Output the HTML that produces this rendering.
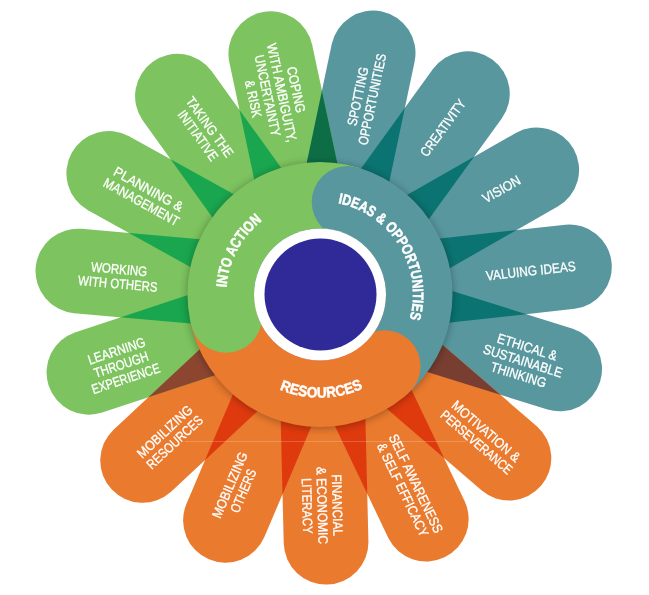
<!DOCTYPE html>
<html><head><meta charset="utf-8"><title>EntreComp</title><style>html,body{margin:0;padding:0;background:#fff}svg{display:block}text{font-family:"Liberation Sans",sans-serif;fill:#fff;stroke:#fff;stroke-width:0.3px}</style></head><body>
<svg width="649" height="595" viewBox="0 0 649 595">
<defs>
<clipPath id="c0"><path d="M372.37 262.08L414.64 61.48A42.35 42.35 0 0 0 331.76 44.02L289.49 244.61Z"/></clipPath>
<clipPath id="c1"><path d="M381.53 284.58L501.74 118.52A42.35 42.35 0 0 0 433.12 68.86L312.92 234.92Z"/></clipPath>
<clipPath id="c2"><path d="M379.66 308.18L557.73 206.61A42.35 42.35 0 0 0 515.77 133.03L337.70 234.60Z"/></clipPath>
<clipPath id="c3"><path d="M370.90 331.36L574.66 308.86A42.35 42.35 0 0 0 565.36 224.68L361.60 247.17Z"/></clipPath>
<clipPath id="c4"><path d="M351.85 348.41L547.52 409.54A42.35 42.35 0 0 0 572.78 328.70L377.11 267.56Z"/></clipPath>
<clipPath id="c5"><path d="M326.27 356.41L481.46 490.36A42.35 42.35 0 0 0 536.80 426.24L381.62 292.29Z"/></clipPath>
<clipPath id="c6"><path d="M300.08 352.93L388.34 537.96A42.35 42.35 0 0 0 464.78 501.50L376.53 316.47Z"/></clipPath>
<clipPath id="c7"><path d="M278.72 338.34L283.73 543.27A42.35 42.35 0 0 0 368.41 541.21L363.40 336.27Z"/></clipPath>
<clipPath id="c8"><path d="M266.39 315.50L186.29 504.20A42.35 42.35 0 0 0 264.25 537.30L344.35 348.59Z"/></clipPath>
<clipPath id="c9"><path d="M263.22 290.08L113.30 429.89A42.35 42.35 0 0 0 171.06 491.83L320.99 352.02Z"/></clipPath>
<clipPath id="c10"><path d="M270.23 267.80L75.60 332.17A42.35 42.35 0 0 0 102.20 412.59L296.83 348.22Z"/></clipPath>
<clipPath id="c11"><path d="M285.76 246.73L81.54 228.86A42.35 42.35 0 0 0 74.16 313.24L278.38 331.11Z"/></clipPath>
<clipPath id="c12"><path d="M308.34 235.55L129.04 136.16A42.35 42.35 0 0 0 87.98 210.24L267.28 309.63Z"/></clipPath>
<clipPath id="c13"><path d="M331.17 237.51L211.54 71.04A42.35 42.35 0 0 0 142.76 120.46L262.38 286.94Z"/></clipPath>
<clipPath id="c14"><path d="M354.75 244.92L312.12 44.39A42.35 42.35 0 0 0 229.28 62.01L271.90 262.53Z"/></clipPath>
<filter id="sh" x="-20%" y="-20%" width="140%" height="140%"><feGaussianBlur stdDeviation="4"/></filter>
<clipPath id="ring"><path clip-rule="evenodd" d="M320.00 294.50m-132.50 0a132.50 132.50 0 1 0 265.00 0a132.50 132.50 0 1 0 -265.00 0ZM320.00 294.50m-66.00 0a66.00 66.00 0 1 0 132.00 0a66.00 66.00 0 1 0 -132.00 0Z"/></clipPath>
</defs>
<rect width="649" height="595" fill="#fff"/>
<path d="M372.37 262.08L414.64 61.48A42.35 42.35 0 0 0 331.76 44.02L289.49 244.61Z" fill="#59979f"/>
<path d="M381.53 284.58L501.74 118.52A42.35 42.35 0 0 0 433.12 68.86L312.92 234.92Z" fill="#59979f"/>
<path d="M379.66 308.18L557.73 206.61A42.35 42.35 0 0 0 515.77 133.03L337.70 234.60Z" fill="#59979f"/>
<path d="M370.90 331.36L574.66 308.86A42.35 42.35 0 0 0 565.36 224.68L361.60 247.17Z" fill="#59979f"/>
<path d="M351.85 348.41L547.52 409.54A42.35 42.35 0 0 0 572.78 328.70L377.11 267.56Z" fill="#59979f"/>
<path d="M326.27 356.41L481.46 490.36A42.35 42.35 0 0 0 536.80 426.24L381.62 292.29Z" fill="#ea7a2e"/>
<path d="M300.08 352.93L388.34 537.96A42.35 42.35 0 0 0 464.78 501.50L376.53 316.47Z" fill="#ea7a2e"/>
<path d="M278.72 338.34L283.73 543.27A42.35 42.35 0 0 0 368.41 541.21L363.40 336.27Z" fill="#ea7a2e"/>
<path d="M266.39 315.50L186.29 504.20A42.35 42.35 0 0 0 264.25 537.30L344.35 348.59Z" fill="#ea7a2e"/>
<path d="M263.22 290.08L113.30 429.89A42.35 42.35 0 0 0 171.06 491.83L320.99 352.02Z" fill="#ea7a2e"/>
<path d="M270.23 267.80L75.60 332.17A42.35 42.35 0 0 0 102.20 412.59L296.83 348.22Z" fill="#7dc35f"/>
<path d="M285.76 246.73L81.54 228.86A42.35 42.35 0 0 0 74.16 313.24L278.38 331.11Z" fill="#7dc35f"/>
<path d="M308.34 235.55L129.04 136.16A42.35 42.35 0 0 0 87.98 210.24L267.28 309.63Z" fill="#7dc35f"/>
<path d="M331.17 237.51L211.54 71.04A42.35 42.35 0 0 0 142.76 120.46L262.38 286.94Z" fill="#7dc35f"/>
<path d="M354.75 244.92L312.12 44.39A42.35 42.35 0 0 0 229.28 62.01L271.90 262.53Z" fill="#7dc35f"/>
<g clip-path="url(#c0)"><path d="M381.53 284.58L501.74 118.52A42.35 42.35 0 0 0 433.12 68.86L312.92 234.92Z" fill="#0b7371"/></g>
<g clip-path="url(#c1)"><path d="M379.66 308.18L557.73 206.61A42.35 42.35 0 0 0 515.77 133.03L337.70 234.60Z" fill="#0b7371"/></g>
<g clip-path="url(#c2)"><path d="M370.90 331.36L574.66 308.86A42.35 42.35 0 0 0 565.36 224.68L361.60 247.17Z" fill="#0b7371"/></g>
<g clip-path="url(#c3)"><path d="M351.85 348.41L547.52 409.54A42.35 42.35 0 0 0 572.78 328.70L377.11 267.56Z" fill="#0b7371"/></g>
<g clip-path="url(#c4)"><path d="M326.27 356.41L481.46 490.36A42.35 42.35 0 0 0 536.80 426.24L381.62 292.29Z" fill="#783e32"/></g>
<g clip-path="url(#c5)"><path d="M300.08 352.93L388.34 537.96A42.35 42.35 0 0 0 464.78 501.50L376.53 316.47Z" fill="#de3a0e"/></g>
<g clip-path="url(#c6)"><path d="M278.72 338.34L283.73 543.27A42.35 42.35 0 0 0 368.41 541.21L363.40 336.27Z" fill="#de3a0e"/></g>
<g clip-path="url(#c7)"><path d="M266.39 315.50L186.29 504.20A42.35 42.35 0 0 0 264.25 537.30L344.35 348.59Z" fill="#de3a0e"/></g>
<g clip-path="url(#c8)"><path d="M263.22 290.08L113.30 429.89A42.35 42.35 0 0 0 171.06 491.83L320.99 352.02Z" fill="#de3a0e"/></g>
<g clip-path="url(#c9)"><path d="M270.23 267.80L75.60 332.17A42.35 42.35 0 0 0 102.20 412.59L296.83 348.22Z" fill="#8c4630"/></g>
<g clip-path="url(#c10)"><path d="M285.76 246.73L81.54 228.86A42.35 42.35 0 0 0 74.16 313.24L278.38 331.11Z" fill="#1aa64e"/></g>
<g clip-path="url(#c11)"><path d="M308.34 235.55L129.04 136.16A42.35 42.35 0 0 0 87.98 210.24L267.28 309.63Z" fill="#1aa64e"/></g>
<g clip-path="url(#c12)"><path d="M331.17 237.51L211.54 71.04A42.35 42.35 0 0 0 142.76 120.46L262.38 286.94Z" fill="#1aa64e"/></g>
<g clip-path="url(#c13)"><path d="M354.75 244.92L312.12 44.39A42.35 42.35 0 0 0 229.28 62.01L271.90 262.53Z" fill="#1aa64e"/></g>
<g clip-path="url(#c14)"><path d="M372.37 262.08L414.64 61.48A42.35 42.35 0 0 0 331.76 44.02L289.49 244.61Z" fill="#0d6e46"/></g>
<rect x="185" y="441" width="281" height="1" fill="#fff" opacity="0.2"/>
<circle cx="320.00" cy="295.50" r="132.50" fill="#000" opacity="0.32" filter="url(#sh)"/>
<g clip-path="url(#ring)">
<path d="M386.41 368.26A99.25 99.25 0 0 1 223.03 315.64" fill="none" stroke="#ea7a2e" stroke-width="68.50"/>
<path d="M223.41 317.33A99.25 99.25 0 0 1 350.18 199.95" fill="none" stroke="#7dc35f" stroke-width="68.50"/>
<path d="M348.52 199.44A99.25 99.25 0 0 1 385.11 369.40" fill="none" stroke="#59979f" stroke-width="68.50"/>
<circle cx="384.57" cy="366.21" r="36.00" fill="#ea7a2e"/>
<circle cx="226.09" cy="316.70" r="36.00" fill="#7dc35f"/>
<circle cx="347.73" cy="202.07" r="36.00" fill="#59979f"/>
</g>
<circle cx="320.00" cy="294.50" r="66.00" fill="#fff"/>
<circle cx="320.50" cy="294.50" r="56.00" fill="#302a99"/>
<g transform="translate(364.95 97.80) rotate(281.90)" font-size="13.60" text-anchor="middle" opacity="0.999">
<text x="0" y="-2.54" textLength="59.50" lengthAdjust="spacingAndGlyphs">SPOTTING</text>
<text x="0" y="12.06" textLength="92.80" lengthAdjust="spacingAndGlyphs">OPPORTUNITIES</text>
</g>
<g transform="translate(442.90 127.90) rotate(305.90)" font-size="13.60" text-anchor="middle" opacity="0.999">
<text x="0" y="4.76" textLength="67.00" lengthAdjust="spacingAndGlyphs">CREATIVITY</text>
</g>
<g transform="translate(501.40 189.20) rotate(330.30)" font-size="13.60" text-anchor="middle" opacity="0.999">
<text x="0" y="4.76" textLength="41.50" lengthAdjust="spacingAndGlyphs">VISION</text>
</g>
<g transform="translate(530.80 270.80) rotate(353.70)" font-size="13.60" text-anchor="middle" opacity="0.999">
<text x="0" y="4.76" textLength="90.00" lengthAdjust="spacingAndGlyphs">VALUING IDEAS</text>
</g>
<g transform="translate(522.90 360.80) rotate(17.35)" font-size="13.60" text-anchor="middle" opacity="0.999">
<text x="0" y="-9.84" textLength="62.00" lengthAdjust="spacingAndGlyphs">ETHICAL &amp;</text>
<text x="0" y="4.76" textLength="82.00" lengthAdjust="spacingAndGlyphs">SUSTAINABLE</text>
<text x="0" y="19.36" textLength="57.50" lengthAdjust="spacingAndGlyphs">THINKING</text>
</g>
<g transform="translate(481.40 436.70) rotate(40.80)" font-size="13.60" text-anchor="middle" opacity="0.999">
<text x="0" y="-2.54" textLength="85.50" lengthAdjust="spacingAndGlyphs">MOTIVATION &amp;</text>
<text x="0" y="12.06" textLength="89.60" lengthAdjust="spacingAndGlyphs">PERSEVERANCE</text>
</g>
<g transform="translate(409.50 486.60) rotate(64.50)" font-size="13.60" text-anchor="middle" opacity="0.999">
<text x="0" y="-2.54" textLength="107.70" lengthAdjust="spacingAndGlyphs">SELF AWARENESS</text>
<text x="0" y="12.06" textLength="101.90" lengthAdjust="spacingAndGlyphs">&amp; SELF EFFICACY</text>
</g>
<g transform="translate(322.30 505.50) rotate(88.60)" font-size="13.60" text-anchor="middle" opacity="0.999">
<text x="0" y="-10.34" textLength="61.70" lengthAdjust="spacingAndGlyphs">FINANCIAL</text>
<text x="0" y="4.76" textLength="77.30" lengthAdjust="spacingAndGlyphs">&amp; ECONOMIC</text>
<text x="0" y="19.86" textLength="55.50" lengthAdjust="spacingAndGlyphs">LITERACY</text>
</g>
<g transform="translate(236.45 487.90) rotate(-67.00)" font-size="13.60" text-anchor="middle" opacity="0.999">
<text x="0" y="-2.54" textLength="70.50" lengthAdjust="spacingAndGlyphs">MOBILIZING</text>
<text x="0" y="12.06" textLength="46.00" lengthAdjust="spacingAndGlyphs">OTHERS</text>
</g>
<g transform="translate(169.65 436.80) rotate(-43.00)" font-size="13.60" text-anchor="middle" opacity="0.999">
<text x="0" y="-2.54" textLength="70.20" lengthAdjust="spacingAndGlyphs">MOBILIZING</text>
<text x="0" y="12.06" textLength="71.30" lengthAdjust="spacingAndGlyphs">RESOURCES</text>
</g>
<g transform="translate(121.10 364.60) rotate(-18.30)" font-size="13.60" text-anchor="middle" opacity="0.999">
<text x="0" y="-9.84" textLength="59.70" lengthAdjust="spacingAndGlyphs">LEARNING</text>
<text x="0" y="4.76" textLength="56.60" lengthAdjust="spacingAndGlyphs">THROUGH</text>
<text x="0" y="19.36" textLength="71.00" lengthAdjust="spacingAndGlyphs">EXPERIENCE</text>
</g>
<g transform="translate(118.50 276.40) rotate(5.00)" font-size="13.60" text-anchor="middle" opacity="0.999">
<text x="0" y="-2.54" textLength="56.40" lengthAdjust="spacingAndGlyphs">WORKING</text>
<text x="0" y="12.06" textLength="79.50" lengthAdjust="spacingAndGlyphs">WITH OTHERS</text>
</g>
<g transform="translate(145.00 195.50) rotate(29.00)" font-size="13.60" text-anchor="middle" opacity="0.999">
<text x="0" y="-2.54" textLength="77.00" lengthAdjust="spacingAndGlyphs">PLANNING &amp;</text>
<text x="0" y="12.06" textLength="84.20" lengthAdjust="spacingAndGlyphs">MANAGEMENT</text>
</g>
<g transform="translate(203.90 131.25) rotate(54.30)" font-size="13.60" text-anchor="middle" opacity="0.999">
<text x="0" y="-2.54" textLength="71.00" lengthAdjust="spacingAndGlyphs">TAKING THE</text>
<text x="0" y="12.06" textLength="58.70" lengthAdjust="spacingAndGlyphs">INITIATIVE</text>
</g>
<g transform="translate(274.80 94.20) rotate(78.00)" font-size="13.60" text-anchor="middle" opacity="0.999">
<text x="0" y="-17.14" textLength="47.00" lengthAdjust="spacingAndGlyphs">COPING</text>
<text x="0" y="-2.54" textLength="100.40" lengthAdjust="spacingAndGlyphs">WITH AMBIGUITY,</text>
<text x="0" y="12.06" textLength="83.00" lengthAdjust="spacingAndGlyphs">UNCERTAINTY</text>
<text x="0" y="26.66" textLength="37.60" lengthAdjust="spacingAndGlyphs">&amp; RISK</text>
</g>
<path id="rt1" d="M226.46 287.47A93.80 93.80 0 0 1 290.70 205.39" fill="none"/>
<text font-size="15.00" font-weight="bold" opacity="0.999" style="stroke-width:0.5px" textLength="77.76" lengthAdjust="spacingAndGlyphs"><textPath href="#rt1" startOffset="0" textLength="77.76" lengthAdjust="spacingAndGlyphs">INTO ACTION</textPath></text>
<path id="rt2" d="M338.06 203.27A93.00 93.00 0 0 1 395.99 348.11" fill="none"/>
<text font-size="15.00" font-weight="bold" opacity="0.999" style="stroke-width:0.5px" textLength="152.58" lengthAdjust="spacingAndGlyphs"><textPath href="#rt2" startOffset="0" textLength="152.58" lengthAdjust="spacingAndGlyphs">IDEAS &amp; OPPORTUNITIES</textPath></text>
<path id="rt3" d="M279.68 389.50A103.20 103.20 0 0 0 392.46 367.98" fill="none"/>
<text font-size="15.00" font-weight="bold" opacity="0.999" style="stroke-width:0.5px" textLength="85.74" lengthAdjust="spacingAndGlyphs"><textPath href="#rt3" startOffset="0" textLength="85.74" lengthAdjust="spacingAndGlyphs">RESOURCES</textPath></text>
</svg></body></html>
